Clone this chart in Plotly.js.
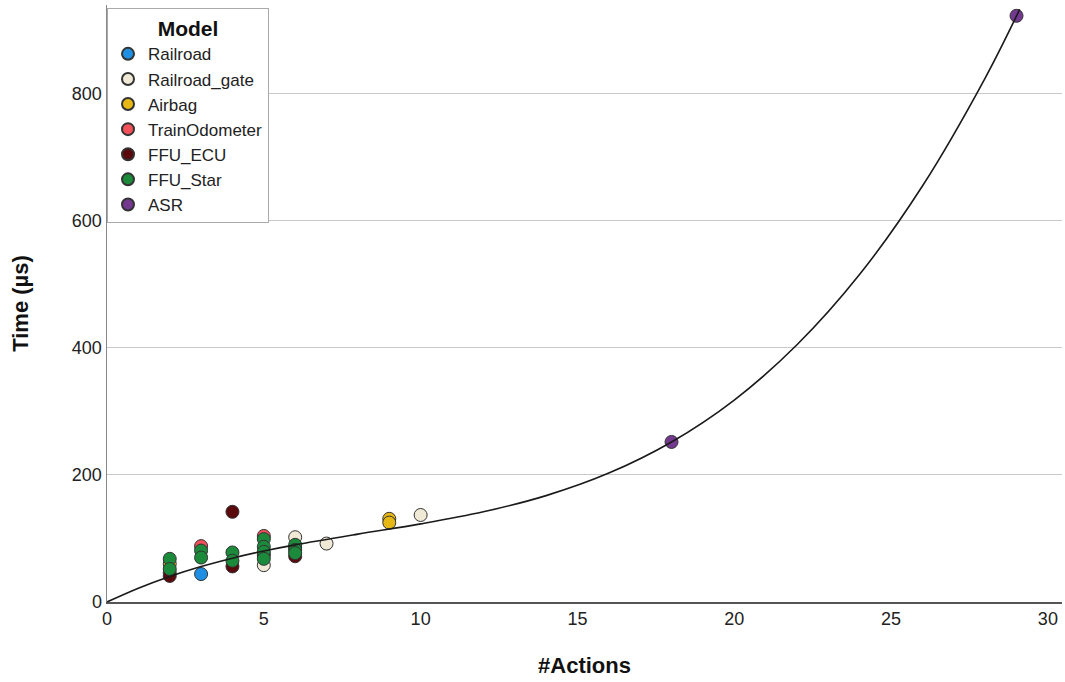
<!DOCTYPE html>
<html>
<head>
<meta charset="utf-8">
<script src="https://cdn.plot.ly/plotly-3.0.1.min.js"></script>
<style>html,body{margin:0;padding:0;background:#fff;}#chart{width:1065px;height:682px;}</style>
</head>
<body>
<div id="chart"></div>
<script>
// ---- data ----
const seriesNames = ["Railroad", "Railroad_gate", "Airbag", "TrainOdometer", "FFU_ECU", "FFU_Star", "ASR"];
const seriesColors = ["#1f8fe3", "#efe9d6", "#e6b816", "#f2505a", "#5a0a0c", "#1c8a3b", "#73388f"];

const railroadActions = [3];
const railroadTime = [44];

const railroadGateActions = [5, 6, 7, 10];
const railroadGateTime = [58, 102, 92, 137];

const airbagActions = [9, 9, 2];
const airbagTime = [131, 125, 60];

const trainOdometerActions = [3, 5, 2];
const trainOdometerTime = [88, 104, 46];

const ffuEcuActions = [4, 2, 4, 5, 6, 6];
const ffuEcuTime = [142, 41, 56, 74, 72, 85];

const ffuStarActions = [2, 2, 3, 3, 4, 4, 5, 5, 5, 5, 6, 6, 6];
const ffuStarTime = [68, 52, 81, 70, 78, 65, 99, 87, 79, 68, 90, 82, 77];

const asrActions = [18, 29];
const asrTime = [252, 923];

// fitted curve
const fitActions = [0, 1, 2, 3, 4, 5, 6, 8, 10, 12, 14, 16, 18, 20, 22, 24, 26, 28, 29.1];
const fitTime = [0, 21.7, 40.2, 55.8, 69.0, 80.3, 90.0, 106.9, 123, 142, 167.5, 203, 252, 318, 405, 516, 655, 825, 933];

const yTicks = [0, 200, 400, 600, 800];
const xTicks = [0, 5, 10, 15, 20, 25, 30];

const seriesX = [railroadActions, railroadGateActions, airbagActions, trainOdometerActions, ffuEcuActions, ffuStarActions, asrActions];
const seriesY = [railroadTime, railroadGateTime, airbagTime, trainOdometerTime, ffuEcuTime, ffuStarTime, asrTime];

const FONT = "Liberation Sans, Arial, sans-serif";

const traces = seriesNames.map((name, i) => ({
  type: "scatter",
  mode: "markers",
  name: name,
  x: seriesX[i],
  y: seriesY[i],
  marker: {color: seriesColors[i], size: 13, line: {color: "#333333", width: 1}},
  hoverinfo: "x+y+name"
}));

traces.push({
  type: "scatter",
  mode: "lines",
  x: fitActions,
  y: fitTime,
  line: {color: "#1a1a1a", width: 1.6, shape: "spline", smoothing: 1},
  showlegend: false,
  hoverinfo: "skip"
});

const layout = {
  width: 1065,
  height: 682,
  margin: {l: 107, r: 3, t: 5, b: 80},
  paper_bgcolor: "#ffffff",
  plot_bgcolor: "#ffffff",
  font: {family: FONT, color: "#222222", size: 18},
  showlegend: true,
  legend: {
    x: 0, y: 0.995, xanchor: "left", yanchor: "top",
    bgcolor: "#ffffff",
    bordercolor: "#aaaaaa",
    borderwidth: 1,
    font: {family: FONT, size: 17, color: "#222222"},
    title: {text: "<b>Model</b>", side: "top center", font: {family: FONT, size: 21, color: "#111111"}},
    itemsizing: "constant",
    itemwidth: 30,
    traceorder: "normal"
  },
  xaxis: {
    range: [0, 30.45],
    tickvals: xTicks,
    ticktext: xTicks.map(String),
    showgrid: false,
    zeroline: false,
    showline: true,
    linecolor: "#555555",
    linewidth: 1.5,
    ticks: "",
    tickfont: {family: FONT, size: 18, color: "#222222"},
    title: {text: "<b>#Actions</b>", font: {family: FONT, size: 22, color: "#111111"}, standoff: 29}
  },
  yaxis: {
    range: [0, 940],
    tickvals: yTicks,
    ticktext: yTicks.map(String),
    showgrid: true,
    gridcolor: "#c8c8c8",
    gridwidth: 1,
    zeroline: false,
    showline: true,
    linecolor: "#888888",
    linewidth: 1.5,
    ticks: "",
    tickfont: {family: FONT, size: 18, color: "#222222"},
    title: {text: "<b>Time (µs)</b>", font: {family: FONT, size: 22, color: "#111111"}, standoff: 37}
  }
};

Plotly.newPlot("chart", traces, layout, {displayModeBar: false, staticPlot: true});
</script>
</body>
</html>
